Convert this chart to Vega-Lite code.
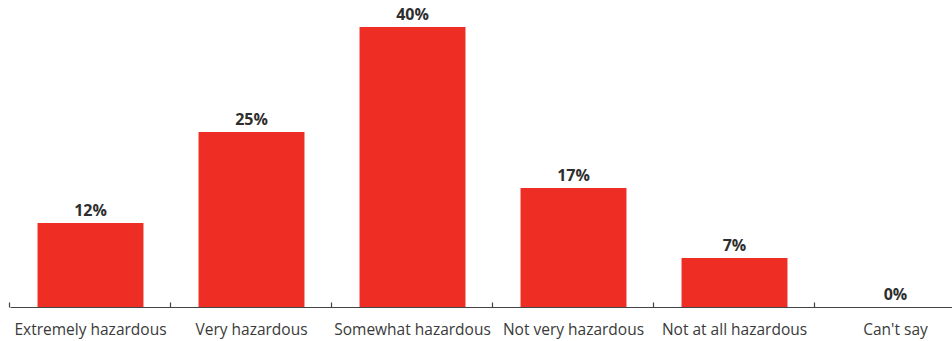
{
  "$schema": "https://vega.github.io/schema/vega-lite/v6.json",
  "autosize": {"type": "none"},
  "width": 938,
  "height": 280,
  "padding": {"left": 10, "top": 27, "right": 4, "bottom": 34},
  "background": "white",
  "data": {
    "values": [
      {"answer": "Extremely hazardous", "share": 0.12},
      {"answer": "Very hazardous", "share": 0.25},
      {"answer": "Somewhat hazardous", "share": 0.40},
      {"answer": "Not very hazardous", "share": 0.17},
      {"answer": "Not at all hazardous", "share": 0.07},
      {"answer": "Can't say", "share": 0}
    ]
  },
  "config": {
    "view": {"stroke": null},
    "font": "Open Sans"
  },
  "encoding": {
    "x": {
      "field": "answer",
      "type": "nominal",
      "sort": null,
      "scale": {"range": [0, 966], "paddingInner": 0.342, "paddingOuter": 0.171},
      "axis": {
        "title": null,
        "labelAngle": 0,
        "labelFont": "Open Sans",
        "labelFontSize": 15.5,
        "labelColor": "#3a3a3a",
        "labelPadding": 20,
        "domainColor": "#444444",
        "domainWidth": 1.2,
        "ticks": true,
        "tickColor": "#444444",
        "tickWidth": 1.2,
        "tickSize": -5,
        "bandPosition": -0.26,
        "grid": false
      }
    },
    "y": {
      "field": "share",
      "type": "quantitative",
      "scale": {"domain": [0, 0.4], "nice": false},
      "axis": null
    }
  },
  "layer": [
    {"mark": {"type": "bar", "color": "#ee2e24"}},
    {
      "mark": {
        "type": "text",
        "baseline": "alphabetic",
        "dy": -7,
        "fontSize": 16,
        "fontWeight": "bold",
        "color": "#2e2e2e",
        "font": "Open Sans"
      },
      "encoding": {"text": {"field": "share", "type": "quantitative", "format": ".0%"}}
    }
  ]
}
